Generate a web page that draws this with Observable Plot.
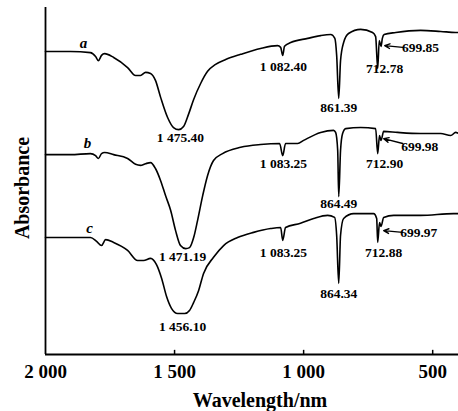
<!DOCTYPE html>
<html>
<head>
<meta charset="utf-8">
<script src="https://cdn.jsdelivr.net/npm/d3@7"></script>
<script src="https://cdn.jsdelivr.net/npm/@observablehq/plot@0.6"></script>
<style>
  html, body { margin: 0; padding: 0; background: #fff; }
  #chart svg { display: block; }
</style>
</head>
<body>
<div id="chart"></div>
<script>
// Curve a
const waveA = [2000,1903,1826,1806,1795,1783,1771,1736,1682,1651,1632,1612,1593,1574,1554,1527,1504,1484,1465,1446,1426,1399,1372,1341,1302,1244,1167,1101,1089,1081,1074,1050,984,934,895,879,872,864,857,845,826,779,733,721,713,707,700,695,688,643,547,469,411,400];
const absA  = [87.3,87.3,87.0,85.9,84.7,86.2,86.7,85.6,82.7,80.4,80.4,81.3,81.0,79.0,74.1,68.3,65.4,64.8,65.7,69.2,73.5,78.1,81.6,83.6,85.0,86.5,88.2,89.0,88.5,86.2,88.8,89.9,91.1,91.9,92.2,91.1,86.2,73.8,84.7,89.9,92.5,93.7,92.8,91.6,82.4,90.5,88.8,91.1,92.2,92.8,93.4,93.1,92.8,92.8];
// Curve b
const waveB = [2000,1903,1826,1806,1795,1783,1771,1736,1682,1651,1632,1612,1593,1574,1554,1535,1515,1496,1477,1457,1442,1426,1411,1391,1372,1349,1314,1244,1167,1093,1081,1070,1023,1000,934,884,876,868,864,857,849,837,779,721,713,706,700,690,636,547,469,430,411,400];
const absB  = [57.6,57.6,57.9,57.3,56.5,57.9,58.2,57.6,56.5,54.8,54.5,55.0,55.3,53.6,50.1,45.8,41.5,35.7,31.4,30.5,30.8,33.7,38.6,45.8,51.6,55.9,57.9,59.7,60.5,60.8,57.3,60.8,60.8,61.7,64.0,64.6,64.0,58.8,45.5,58.8,63.7,65.1,65.4,65.1,57.9,63.1,61.7,64.3,64.0,63.7,63.7,63.1,64.0,63.7];
// Curve c
const waveC = [2000,1903,1826,1802,1783,1767,1736,1682,1643,1620,1593,1570,1550,1531,1512,1488,1461,1442,1426,1407,1388,1349,1310,1256,1194,1128,1089,1081,1070,1012,961,907,880,872,864,857,845,806,729,717,713,706,700,690,651,547,419,400];
const absC  = [33.7,33.7,33.7,32.6,31.4,33.1,32.3,30.0,27.1,27.1,27.7,25.9,21.9,16.7,13.3,11.8,11.8,12.7,15.0,18.4,23.3,28.0,31.4,33.7,35.2,36.3,36.6,32.9,36.6,37.8,39.2,40.1,39.5,34.3,20.5,34.3,39.2,40.6,40.6,39.2,32.3,38.0,36.9,39.5,40.1,40.1,40.6,40.6];

// Axis ticks
const xTicks = [2000, 1500, 1000, 500];
const xTickLabels = ["2 000", "1 500", "1 000", "500"];

// Peak labels
const peakLabels = ["1 475.40","1 082.40","861.39","712.78","699.85",
                    "1 471.19","1 083.25","864.49","712.90","699.98",
                    "1 456.10","1 083.25","864.34","712.88","699.97"];
const peakLabelX = [1477,1078,864,686,547, 1469,1078,864,686,550, 1469,1078,864,690,554];
const peakLabelY = [62.5,83.0,71.2,82.4,88.5, 28.2,55.0,43.5,55.0,60.0, 8.1,29.4,17.6,29.4,35.2];

// Arrows pointing to the 699 shoulder
const arrowX1 = [616, 616, 616];
const arrowY1 = [88.5, 60.8, 35.2];
const arrowX2 = [686, 690, 690];
const arrowY2 = [89.0, 62.2, 35.7];

// Curve letters
const curveNames = ["a", "b", "c"];
const curveNameX = [1853, 1837, 1829];
const curveNameY = [89.6, 60.8, 36.3];

const toRows = (w, v) => w.map((d, i) => ({wave: d, abs: v[i]}));
const seriesA = toRows(waveA, absA);
const seriesB = toRows(waveB, absB);
const seriesC = toRows(waveC, absC);
const labelRows = peakLabels.map((t, i) => ({t, x: peakLabelX[i], y: peakLabelY[i]}));
const arrowRows = arrowX1.map((d, i) => ({x1: d, y1: arrowY1[i], x2: arrowX2[i], y2: arrowY2[i]}));
const nameRows = curveNames.map((t, i) => ({t, x: curveNameX[i], y: curveNameY[i]}));

const serif = "'Liberation Serif', 'Times New Roman', serif";

const chart = Plot.plot({
  width: 458,
  height: 411,
  marginLeft: 45,
  marginRight: 0,
  marginTop: 7,
  marginBottom: 57,
  x: {domain: [2000, 400], axis: null},
  y: {domain: [0, 100], axis: null},
  style: {fontFamily: serif, background: "white", color: "black"},
  marks: [
    Plot.ruleY([0], {x1: 2000, x2: 400, strokeWidth: 1.8}),
    Plot.ruleX([2000], {y1: 0, y2: 100, strokeWidth: 1.8}),
    Plot.ruleX(xTicks.slice(1), {y1: 0, y2: 1.2, strokeWidth: 1.5}),
    Plot.axisX({
      ticks: xTicks, tickSize: 0, tickPadding: 10,
      tickFormat: d => xTickLabels[xTicks.indexOf(d)],
      fontSize: 19, fontWeight: "bold", fontFamily: serif, label: null
    }),
    Plot.text(["Wavelength/nm"], {frameAnchor: "bottom", dx: 8, dy: 52, fontSize: 20, fontWeight: "bold", fontFamily: serif}),
    Plot.text(["Absorbance"], {frameAnchor: "left", textAnchor: "middle", dx: -23, dy: 7, rotate: -90, fontSize: 20, fontWeight: "bold", fontFamily: serif}),
    Plot.line(seriesA, {x: "wave", y: "abs", curve: "monotone-x", strokeWidth: 1.6}),
    Plot.line(seriesB, {x: "wave", y: "abs", curve: "monotone-x", strokeWidth: 1.6}),
    Plot.line(seriesC, {x: "wave", y: "abs", curve: "monotone-x", strokeWidth: 1.6}),
    Plot.text(labelRows, {x: "x", y: "y", text: "t", fontSize: 13.5, fontWeight: "bold", fontFamily: serif}),
    Plot.arrow(arrowRows, {x1: "x1", y1: "y1", x2: "x2", y2: "y2", headLength: 6, headAngle: 50, strokeWidth: 1.4}),
    Plot.text(nameRows, {x: "x", y: "y", text: "t", fontSize: 15, fontStyle: "italic", fontWeight: "bold", fontFamily: serif})
  ]
});
document.getElementById("chart").appendChild(chart);
</script>
</body>
</html>
